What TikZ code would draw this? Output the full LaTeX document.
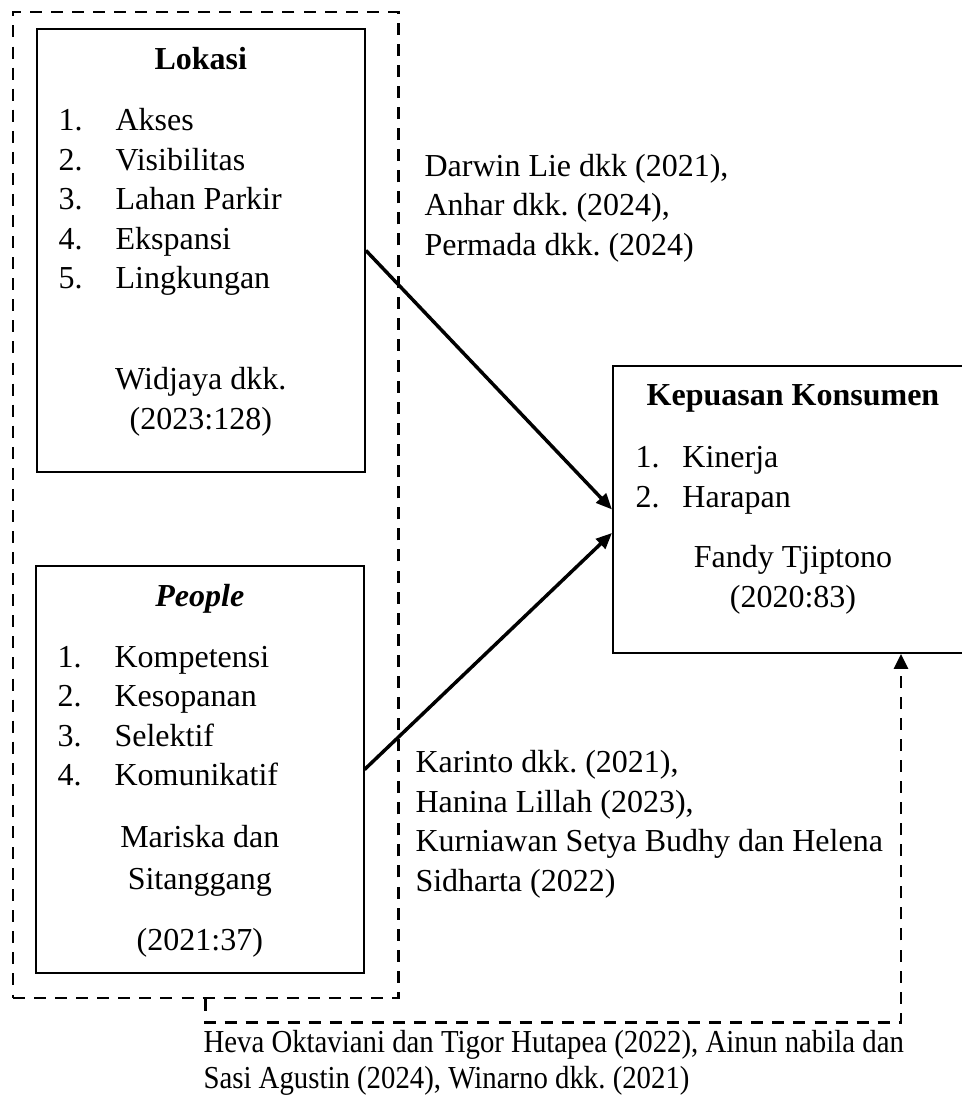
\documentclass[tikz,border=0pt]{standalone}
\usepackage{fontspec}
\setmainfont{Liberation Serif}
\newfontfamily\sempit[FakeStretch=0.9]{Liberation Serif}
\usetikzlibrary{arrows.meta}
\newcommand{\nomor}[2][21.4pt]{\makebox[#1][l]{#2}}
\frenchspacing

\begin{document}
\begin{tikzpicture}[x=0.375pt, y=-0.375pt,
  every node/.style={inner sep=0pt, font=\fontsize{12}{14.8}\selectfont},
  box/.style={draw, line width=0.75pt},
  putus/.style={line width=1.1pt, dash pattern=on 4.5pt off 3.4pt},
  item/.style={anchor=base west},
  mid/.style={anchor=base, align=center},
  sumber/.style={anchor=base west, align=left},
  panah/.style={-{Triangle[length=6pt,width=5pt]}, line width=1.3pt}]
\useasboundingbox (0,0) rectangle (962,1095);
% kotak
\node[draw, putus, minimum width=144.4pt, minimum height=369.75pt] (G) at (205.5,505) {};
\node[box, minimum width=123.1pt, minimum height=165.9pt] (L) at (200.8,250.5) {};
\node[box, minimum width=122.8pt, minimum height=152.6pt] (P) at (199.8,769.5) {};
\node[box, minimum width=135pt, minimum height=107.6pt] (K) at (793,509.5) {};
% lokasi
\node[mid] (Lj) at (200.8,70) {\textbf{Lokasi}};
\node[item] (L1) at (58,130.5) {\nomor{1.}Akses};
\node[item] (L2) at (58,170) {\nomor{2.}Visibilitas};
\node[item] (L3) at (58,209.5) {\nomor{3.}Lahan Parkir};
\node[item] (L4) at (58,249) {\nomor{4.}Ekspansi};
\node[item] (L5) at (58,288.5) {\nomor{5.}Lingkungan};
\node[mid] (Ls) at (200.8,429) {Widjaya dkk.\\(2023:128)};
% people
\node[mid] (Pj) at (199.8,606) {\textbf{\textit{People}}};
\node[item] (P1) at (57,667) {\nomor{1.}Kompetensi};
\node[item] (P2) at (57,706.5) {\nomor{2.}Kesopanan};
\node[item] (P3) at (57,746) {\nomor{3.}Selektif};
\node[item] (P4) at (57,785.5) {\nomor{4.}Komunikatif};
\node[mid] (Ps) at (199.8,889) {Mariska dan\\[0.6pt]Sitanggang};
\node[mid] (Pt) at (199.8,950) {(2021:37)};
% kepuasan konsumen
\node[mid] (Kj) at (793,405) {\textbf{Kepuasan Konsumen}};
\node[item] (K1) at (635,467) {\nomor[17.6pt]{1.}Kinerja};
\node[item] (K2) at (635,507) {\nomor[17.6pt]{2.}Harapan};
\node[mid] (Ks) at (793,607) {Fandy Tjiptono\\(2020:83)};
% rujukan
\node[sumber] (R1) at (424,255) {Darwin Lie dkk (2021),\\Anhar dkk. (2024),\\Permada dkk. (2024)};
\node[sumber] (R2) at (415,891) {Karinto dkk. (2021),\\Hanina Lillah (2023),\\Kurniawan Setya Budhy dan Helena\\Sidharta (2022)};
\node[sumber, font=\fontsize{12}{13.5}\selectfont\sempit] (R3) at (203,1088) {Heva Oktaviani dan Tigor Hutapea (2022), Ainun nabila dan\\Sasi Agustin (2024), Winarno dkk. (2021)};
% panah
\path [panah] (L.east) edge (K.west);
\path [panah] (P.east) edge ([yshift=-8.8pt]K.west);
\draw [putus, -{Triangle[length=5.6pt,width=5.2pt]}] (G.south) -- ++(0,23) -| ([xshift=40.5pt]K.south);
\end{tikzpicture}
\end{document}
